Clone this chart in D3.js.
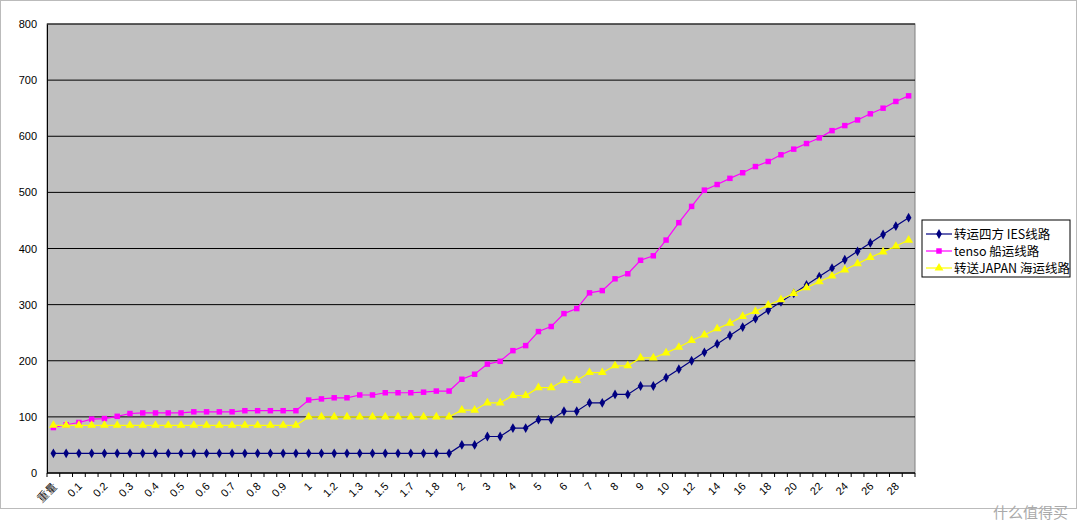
<!DOCTYPE html>
<html><head><meta charset="utf-8">
<script src="https://cdn.jsdelivr.net/npm/d3@7"></script>
<style>body{margin:0;background:#fff;}</style></head>
<body><svg id="c" width="1080" height="530"></svg>
<script>
const categories = ["重量","0.05","0.1","0.15","0.2","0.25","0.3","0.35","0.4","0.45","0.5","0.55","0.6","0.65","0.7","0.75","0.8","0.85","0.9","0.95","1","1.1","1.2","1.25","1.3","1.4","1.5","1.6","1.7","1.75","1.8","1.9","2","2.5","3","3.5","4","4.5","5","5.5","6","6.5","7","7.5","8","8.5","9","9.5","10","11","12","13","14","15","16","17","18","19","20","21","22","23","24","25","26","27","28","29"];
const shownLabels = ["重量","0.1","0.2","0.3","0.4","0.5","0.6","0.7","0.8","0.9","1","1.2","1.3","1.5","1.7","1.8","2","3","4","5","6","7","8","9","10","12","14","16","18","20","22","24","26","28"];
const labelIdx = [0,2,4,6,8,10,12,14,16,18,20,22,24,26,28,30,32,34,36,38,40,42,44,46,48,50,52,54,56,58,60,62,64,66];
const seriesNames = ["转运四方 IES线路","tenso 船运线路","转送JAPAN 海运线路"];
const ies = [35,35,35,35,35,35,35,35,35,35,35,35,35,35,35,35,35,35,35,35,35,35,35,35,35,35,35,35,35,35,35,35,
  50,50,65,65,80,80,95,95,110,110,125,125,140,140,155,155,170,185,200,215,230,245,260,275,290,305,320,335,350,365,380,395,410,425,440,455];
const tenso = [81,86,90,96,97,101,106,107,107,107,107,109,109,109,109,111,111,111,111,111,130,132,134,134,139,139,143,143,143,144,146,146,
  167,176,194,199,218,227,252,261,284,293,321,325,346,355,379,387,415,446,475,504,514,525,535,546,555,567,577,587,597,610,619,629,640,650,662,672];
const japan = [85,85,85,85,85,85,85,85,85,85,85,85,85,85,85,85,85,85,85,85,100,100,100,100,100,100,100,100,100,100,100,100,
  112,112,125,125,138,138,152,152,165,165,179,179,191,191,205,205,214,224,236,246,257,267,279,288,299,309,320,330,341,351,362,373,384,394,404,415];
const yTicks = [0,100,200,300,400,500,600,700,800];

const svg = d3.select("#c");
const font = "'Liberation Sans', Arial, sans-serif";
svg.append("rect").attr("x",0.5).attr("y",0.5).attr("width",1076).attr("height",508).attr("fill","#fff").attr("stroke","#bbb");
const L=47,R=915,T=24,B=473;
const x = d3.scaleBand().domain(d3.range(categories.length)).range([L,R]);
const y = d3.scaleLinear().domain([0,800]).range([B,T]);
svg.append("rect").attr("x",L).attr("y",T).attr("width",R-L).attr("height",B-T).attr("fill","#c0c0c0").attr("stroke","#808080");
svg.append("g").selectAll("line").data(yTicks.slice(1)).join("line")
  .attr("x1",L).attr("x2",R).attr("y1",d=>y(d)).attr("y2",d=>y(d)).attr("stroke","#000").attr("stroke-width",1);
// y axis
const ya = svg.append("g").attr("transform",`translate(${L},0)`).call(d3.axisLeft(y).tickValues(yTicks).tickSize(0).tickPadding(10));
ya.select(".domain").attr("stroke","#000");
ya.selectAll("text").attr("font-family",font).attr("font-size",11).attr("fill","#000");
// x axis
const xa = svg.append("g").attr("transform",`translate(0,${B})`);
xa.append("line").attr("x1",L).attr("x2",R).attr("stroke","#000").attr("stroke-width",1.5);
xa.selectAll("line.t").data(d3.range(categories.length+1)).join("line").attr("class","t")
  .attr("x1",d=>L+d*x.step()).attr("x2",d=>L+d*x.step()).attr("y1",0).attr("y2",4).attr("stroke","#000");
xa.selectAll("text").data(labelIdx).join("text")
  .attr("transform",i=>`translate(${x(i)+x.bandwidth()/2+4},14) rotate(-45)`)
  .attr("text-anchor","end").attr("font-family",font).attr("font-size",11).attr("fill","#000")
  .text((i,k)=>shownLabels[k]);
const cx = i=>x(i)+x.bandwidth()/2;
const line = d3.line().x((d,i)=>cx(i)).y(d=>y(d));
const series=[{v:ies,c:"#000080",s:d3.symbolDiamond,sz:28},{v:tenso,c:"#ff00ff",s:d3.symbolSquare,sz:30},{v:japan,c:"#ffff00",s:d3.symbolTriangle,sz:34}];
series.forEach(S=>{
  svg.append("path").datum(S.v).attr("d",line).attr("fill","none").attr("stroke",S.c).attr("stroke-width",1.2);
  svg.append("g").selectAll("path").data(S.v).join("path")
   .attr("transform",(d,i)=>`translate(${cx(i)},${y(d)})`).attr("d",d3.symbol(S.s,S.sz)).attr("fill",S.c);
});
// legend
const lg = svg.append("g").attr("transform","translate(922,220)");
lg.append("rect").attr("width",148).attr("height",57).attr("fill","#fff").attr("stroke","#000");
series.forEach((S,k)=>{
  const yy=14+k*17;
  lg.append("line").attr("x1",4).attr("x2",30).attr("y1",yy).attr("y2",yy).attr("stroke",S.c).attr("stroke-width",1.2);
  lg.append("path").attr("transform",`translate(17,${yy})`).attr("d",d3.symbol(S.s,S.sz)).attr("fill",S.c);
  lg.append("text").attr("x",32).attr("y",yy+5).attr("font-family","'Noto Sans CJK SC', sans-serif").attr("font-size",12.5).attr("fill","#000").text(seriesNames[k]);
});
svg.append("text").attr("x",1068).attr("y",518).attr("text-anchor","end").attr("font-family","'Noto Sans CJK SC', sans-serif").attr("font-size",15).attr("fill","#aaa").text("什么值得买");
</script></body></html>
